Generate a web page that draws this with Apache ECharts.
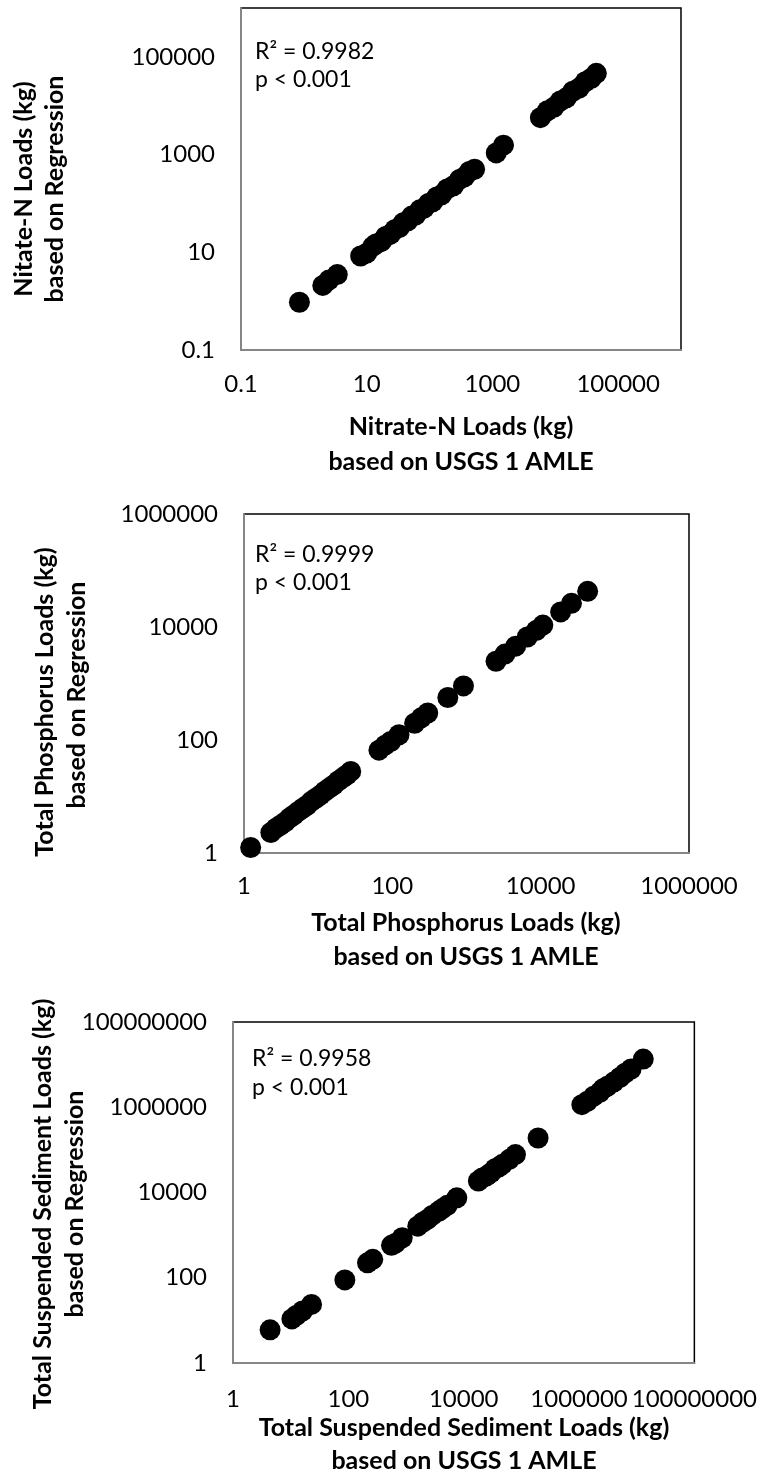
<!DOCTYPE html>
<html>
<head>
<meta charset="utf-8">
<script src="https://cdn.jsdelivr.net/npm/echarts@6/dist/echarts.min.js"></script>
<style>
html,body{margin:0;padding:0;background:#fff;}
#chart{width:760px;height:1482px;}
</style>
</head>
<body>
<div id="chart"></div>
<script>
// ---- Data ----
const nitrateAmle = [0.85, 2.0, 2.5, 3.4, 8.0, 10.0, 12.5, 14.0, 17.0, 20.0, 24.0, 28.0, 33.0, 38.0, 45.0, 52.0, 60.0, 70.0, 82.0, 96.0, 112.0, 130.0, 155.0, 190.0, 240.0, 300.0, 360.0, 430.0, 520.0, 1150.0, 1500.0, 5800.0, 7500.0, 9500.0, 12000.0, 15000.0, 19000.0, 24000.0, 30000.0, 37000.0, 45000.0];
const nitrateReg  = [0.95, 2.1, 2.7, 3.5, 8.4, 9.6, 13.2, 14.8, 16.5, 21.0, 23.5, 29.0, 32.0, 40.0, 44.0, 55.0, 58.0, 74.0, 80.0, 100.0, 108.0, 136.0, 150.0, 198.0, 230.0, 310.0, 350.0, 450.0, 500.0, 1080.0, 1560.0, 5700.0, 7900.0, 9300.0, 12500.0, 14500.0, 19800.0, 23000.0, 31000.0, 36000.0, 46000.0];

const tpAmle = [1.23, 2.3, 2.7, 3.1, 3.6, 4.1, 4.7, 5.4, 6.2, 7.1, 8.1, 9.3, 10.7, 12.3, 14.1, 16.2, 18.6, 21.4, 24.5, 27.5, 66, 80, 95, 123, 200, 245, 300, 560, 910, 2500, 3300, 4600, 6600, 8700, 10700, 18600, 26000, 43000];
const tpReg  = [1.25, 2.3, 2.75, 3.1, 3.55, 4.15, 4.7, 5.45, 6.2, 7.0, 8.2, 9.3, 10.6, 12.4, 14.1, 16.0, 18.8, 21.4, 24.3, 27.8, 66, 81, 94, 124, 198, 247, 300, 565, 905, 2480, 3320, 4580, 6650, 8650, 10800, 18500, 26200, 42800];

const tssAmle = [4.4, 10.5, 12.5, 16.0, 23.0, 87, 215, 265, 560, 650, 860, 1600, 1950, 2350, 2850, 3700, 4300, 5200, 7600, 18000, 21000, 25000, 29500, 35000, 41000, 47000, 62000, 79000, 195000, 1120000, 1400000, 1800000, 2300000, 2600000, 3100000, 4000000, 5100000, 6300000, 8000000, 13000000];
const tssReg  = [6.0, 10.8, 13.0, 16.6, 23.7, 89, 224, 270, 575, 640, 870, 1620, 2000, 2340, 2900, 3630, 4200, 5000, 7500, 18600, 22000, 24500, 28800, 36000, 40000, 45700, 60000, 77600, 190000, 1150000, 1380000, 1820000, 2250000, 2700000, 3090000, 3900000, 5000000, 6310000, 7900000, 13500000];

// tick labels shown on each axis
const nitrateTicks = ['0.1', '10', '1000', '100000'];
const tpTicks = ['1', '100', '10000', '1000000'];
const tssTicks = ['1', '100', '10000', '1000000', '100000000'];

// texts
const stats = [['R\u00B2 = 0.9982', 'p < 0.001'], ['R\u00B2 = 0.9999', 'p < 0.001'], ['R\u00B2 = 0.9958', 'p < 0.001']];
const xTitles = [['Nitrate-N Loads (kg)', 'based on USGS 1 AMLE'], ['Total Phosphorus Loads (kg)', 'based on USGS 1 AMLE'], ['Total Suspended Sediment Loads (kg)', 'based on USGS 1 AMLE']];
const yTitles = [['Nitate-N Loads (kg)', 'based on Regression'], ['Total Phosphorus Loads (kg)', 'based on Regression'], ['Total Suspended Sediment Loads (kg)', 'based on Regression']];

// ---- Layout ----
const FONT = 'Lato, "Open Sans", sans-serif';
const grids = [
  {left: 241, top: 8, width: 440, height: 342},
  {left: 244, top: 514, width: 445, height: 339},
  {left: 233, top: 1022, width: 463, height: 341}
];
const ranges = [[0.1, 1e6], [1, 1e6], [1, 1e8]];
const tickSets = [nitrateTicks, tpTicks, tssTicks];
const xLabelMargin = [22, 21, 24];

function fmt(v) { return String(Number(Number(v).toPrecision(6))); }

function makeAxis(i, isX) {
  const labels = tickSets[i];
  return {
    type: 'log', logBase: 10, gridIndex: i,
    min: ranges[i][0], max: ranges[i][1],
    axisLine: {show: true, lineStyle: {color: '#868686', width: 2}},
    axisTick: {show: false},
    splitLine: {show: false},
    axisLabel: {
      color: '#000', fontFamily: FONT, fontSize: 24,
      margin: isX ? xLabelMargin[i] : 26,
      showMinLabel: true, showMaxLabel: true, hideOverlap: false,
      formatter: function (v) { const s = fmt(v); return labels.indexOf(s) >= 0 ? s : ''; }
    }
  };
}

const graphic = [];
const statPos = [[255, 52, 80], [255, 555, 583], [252, 1059, 1088]];
const xTitlePos = [[461, 427, 462], [466, 923, 957], [464, 1428, 1461]];
const yTitlePos = [[24, 55, 189, 189], [45, 77, 702, 695], [43, 75, 1204, 1204]];
for (let i = 0; i < 3; i++) {
  for (let k = 0; k < 2; k++) {
    graphic.push({type: 'text', x: statPos[i][0], y: statPos[i][1 + k],
      style: {text: stats[i][k], font: '23px ' + FONT, fill: '#000', align: 'left', verticalAlign: 'middle'}});
    graphic.push({type: 'text', x: xTitlePos[i][0], y: xTitlePos[i][1 + k],
      style: {text: xTitles[i][k], font: 'bold 25px ' + FONT, fill: '#000', align: 'center', verticalAlign: 'middle'}});
    graphic.push({type: 'text', x: yTitlePos[i][k], y: yTitlePos[i][2 + k], rotation: Math.PI / 2,
      style: {text: yTitles[i][k], font: 'bold 25px ' + FONT, fill: '#000', align: 'center', verticalAlign: 'middle'}});
  }
}

const pairs = [[nitrateAmle, nitrateReg], [tpAmle, tpReg], [tssAmle, tssReg]];
const series = pairs.map((p, i) => ({
  type: 'scatter', xAxisIndex: i, yAxisIndex: i,
  symbol: 'circle', symbolSize: 21,
  itemStyle: {color: '#000', opacity: 1},
  data: p[0].map((x, j) => [x, p[1][j]])
}));

const chart = echarts.init(document.getElementById('chart'), null, {renderer: 'canvas'});
chart.setOption({
  animation: false,
  backgroundColor: '#fff',
  grid: grids.map(g => Object.assign({show: true, borderColor: '#000', borderWidth: 1.5, backgroundColor: 'transparent', containLabel: false}, g)),
  xAxis: [0, 1, 2].map(i => makeAxis(i, true)),
  yAxis: [0, 1, 2].map(i => makeAxis(i, false)),
  series: series,
  graphic: graphic
});
</script>
</body>
</html>
